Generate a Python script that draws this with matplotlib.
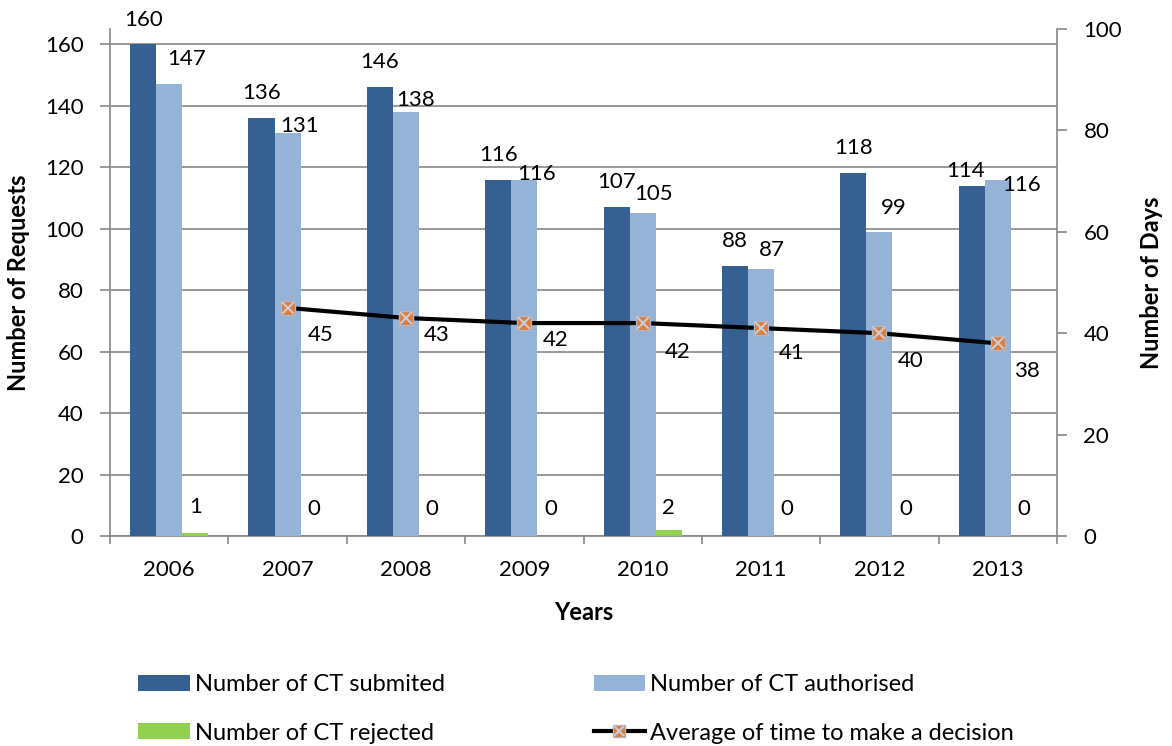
import numpy as np
import matplotlib
matplotlib.use("Agg")
import matplotlib.pyplot as plt
from matplotlib.lines import Line2D
from matplotlib.legend_handler import HandlerTuple

plt.rcParams['font.family'] = ['Lato', 'DejaVu Sans']

years = ['2006', '2007', '2008', '2009', '2010', '2011', '2012', '2013']
submitted = [160, 136, 146, 116, 107, 88, 118, 114]
authorised = [147, 131, 138, 116, 105, 87, 99, 116]
rejected = [1, 0, 0, 0, 2, 0, 0, 0]
avg_days = [None, 45, 43, 42, 42, 41, 40, 38]

# label offsets in pixels (dx, dy) from top of each bar / marker
off_sub = [(0, 24), (0, 25), (0, 25), (0, 25), (0, 25), (0, 25), (0, 25), (-6, 15)]
off_auth = [(17, 25), (12, 7), (10, 12), (12, 6), (11, 19), (11, 19), (14, 24), (24, -5)]
off_rej = [(0, 26), (0, 27), (0, 27), (0, 27), (0, 22), (0, 27), (0, 27), (0, 27)]
off_avg = [None, (33, -27), (31, -17), (31, -17), (35, -29), (31, -25), (31, -28), (29, -28)]

c_dark = '#376092'
c_light = '#95B3D7'
c_green = '#92D050'
grid_c = '#878787'
fs = 16

fig = plt.figure(figsize=(11.72, 7.46), dpi=100)
ax = fig.add_axes([110/1172, 1-536/746, (1057-110)/1172, (536-29)/746])
ax2 = ax.twinx()

x = np.arange(len(years))
w = 0.22
b1 = ax.bar(x - w, submitted, w, color=c_dark, zorder=3)
b2 = ax.bar(x, authorised, w, color=c_light, zorder=3)
b3 = ax.bar(x + w, rejected, w, color=c_green, zorder=3)

ax.set_ylim(0, 165)
ax.set_xlim(-0.5, len(years) - 0.5)
ax.set_yticks(np.arange(0, 161, 20))
ax.grid(axis='y', color=grid_c, lw=1.2, zorder=0)
ax.set_axisbelow(True)

for bars, vals, offs in [(b1, submitted, off_sub), (b2, authorised, off_auth), (b3, rejected, off_rej)]:
    for b, v, o in zip(bars, vals, offs):
        ax.annotate(str(v), (b.get_x() + b.get_width()/2, v), xytext=o,
                    textcoords='offset pixels', ha='center', va='center', fontsize=fs, zorder=5)

# line on secondary axis
lx = [i for i, v in enumerate(avg_days) if v is not None]
ly = [v for v in avg_days if v is not None]
ax2.plot(lx, ly, color='black', lw=3, zorder=4)
ax2.plot(lx, ly, ls='none', marker='s', ms=10, mfc='#E07B39', mec='#B0B8C8', mew=1, zorder=5)
ax2.plot(lx, ly, ls='none', marker='x', ms=8, mec='#C8CCD8', mew=1.5, zorder=6)
for i, v in zip(lx, ly):
    ax2.annotate(str(v), (i, v), xytext=off_avg[i], textcoords='offset pixels',
                 ha='center', va='center', fontsize=fs)
ax2.set_ylim(0, 100)
ax2.set_yticks(np.arange(0, 101, 20))

for a in (ax, ax2):
    a.spines['top'].set_visible(False)
    for s in ('left', 'right', 'bottom'):
        a.spines[s].set_color(grid_c)
        a.spines[s].set_linewidth(1.2)
ax.spines['right'].set_visible(False)
ax2.spines['left'].set_visible(False)
ax2.spines['bottom'].set_visible(False)

ax.set_xticks(x)
ax.set_xticklabels(years, fontsize=fs)
ax.set_xticks(np.arange(-0.5, len(years), 1), minor=True)
ax.tick_params(axis='x', which='major', length=0, pad=17)
ax.tick_params(axis='x', which='minor', length=6, color=grid_c, width=1.2)
ax.tick_params(axis='y', length=7, color=grid_c, width=1.2, labelsize=fs, pad=12)
ax2.tick_params(axis='y', length=7, color=grid_c, width=1.2, labelsize=fs, pad=12)

ax.set_ylabel('Number of Requests', fontsize=17, fontweight='bold')
ax.yaxis.set_label_coords(-0.084, 0.5)
ax.set_xlabel('Years', fontsize=17, fontweight='bold')
ax.xaxis.set_label_coords(0.5, -0.128)
ax2.set_ylabel('Number of Days', fontsize=17, fontweight='bold', rotation=90)
ax2.yaxis.set_label_coords(1.0877, 0.5)

line_handle = (Line2D([], [], color='black', lw=3),
               Line2D([], [], ls='none', marker='s', ms=9, mfc='#E07B39', mec='#B0B8C8'),
               Line2D([], [], ls='none', marker='x', ms=7, mec='#C8CCD8', mew=1.5))
handles = [b1, b3, b2, line_handle]
labels = ['Number of CT submited', 'Number of CT rejected',
          'Number of CT authorised', 'Average of time to make a decision']
fig.legend(handles, labels, ncol=2, loc='center', bbox_to_anchor=(576/1172, 1-709/746),
           frameon=False, fontsize=17, handlelength=2.2, handleheight=0.65,
           handletextpad=0.2, columnspacing=6.3, labelspacing=1.15, borderpad=0,
           handler_map={tuple: HandlerTuple(ndivide=1, pad=0)})

fig.savefig('out.png', dpi=100)
